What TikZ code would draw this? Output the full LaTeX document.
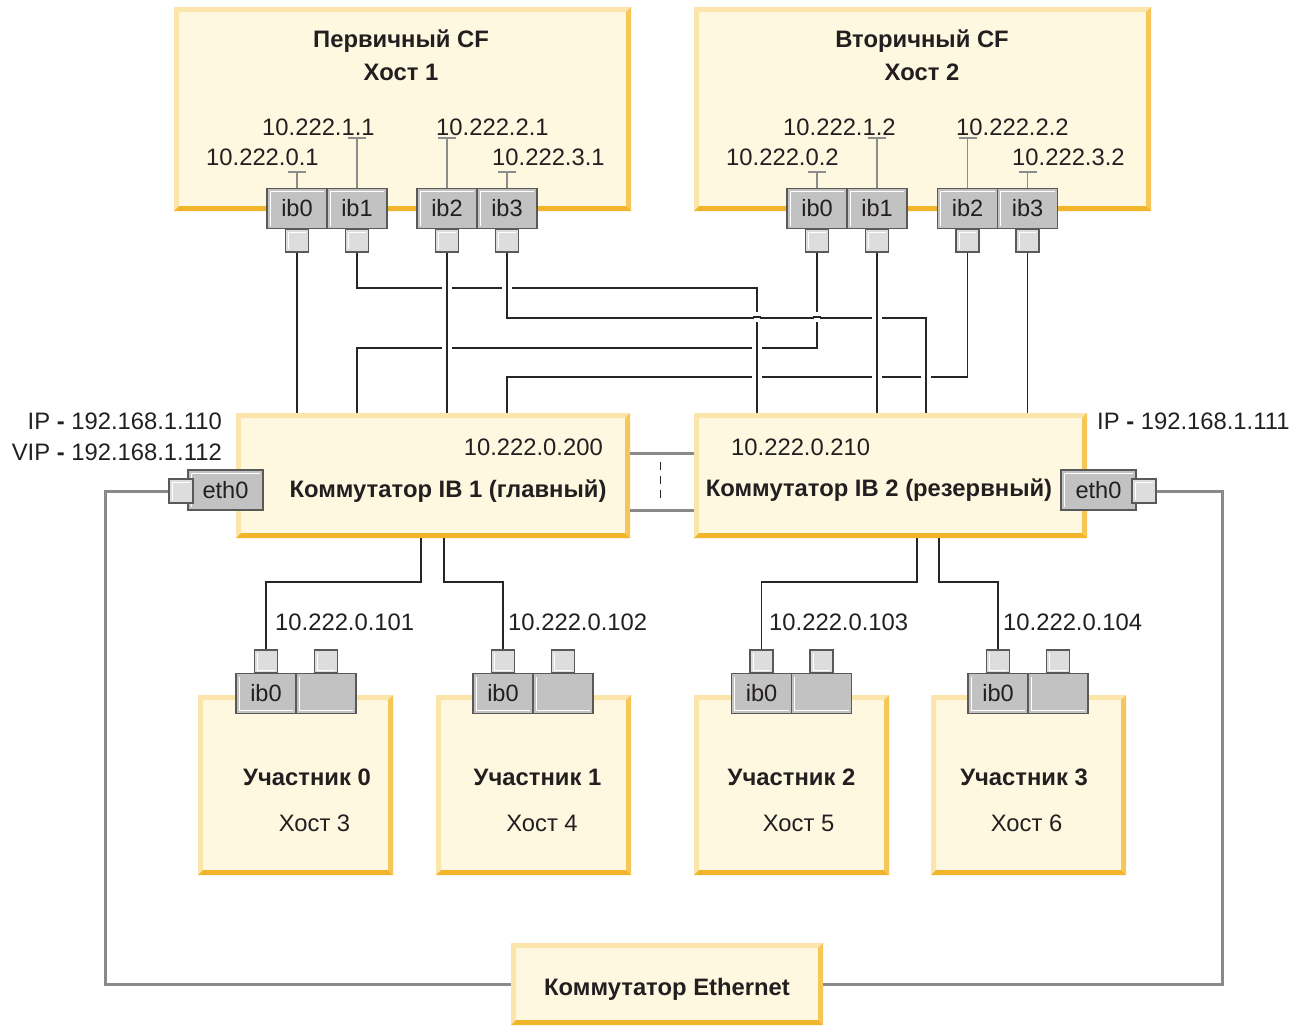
\documentclass[tikz,border=0pt]{standalone}
\usepackage{fontspec}
\setmainfont{Liberation Sans}
\definecolor{boxfill}{HTML}{FFF8E1}
\definecolor{bevlight}{HTML}{FCE5AA}
\definecolor{bevright}{HTML}{F6C656}
\definecolor{bevbottom}{HTML}{F0B52B}
\definecolor{portgray}{HTML}{C2C2C2}
\definecolor{portdark}{HTML}{595959}
\definecolor{sqfill}{HTML}{DDDDDD}
\definecolor{wire}{HTML}{262626}
\definecolor{ethwire}{HTML}{8A8A8A}
\definecolor{stemc}{HTML}{8C8C8C}
\definecolor{ink}{HTML}{231F20}
\tikzset{
 ybox/.style={rectangle, inner sep=0pt, fill=boxfill, path picture={
   \fill[bevlight] (path picture bounding box.north west) -- (path picture bounding box.north east) -- ([xshift=-5pt,yshift=-5pt]path picture bounding box.north east) -- ([xshift=5pt,yshift=-5pt]path picture bounding box.north west) -- cycle;
   \fill[bevlight] (path picture bounding box.north west) -- ([xshift=5pt,yshift=-5pt]path picture bounding box.north west) -- ([xshift=5pt,yshift=5pt]path picture bounding box.south west) -- (path picture bounding box.south west) -- cycle;
   \fill[bevright] (path picture bounding box.north east) -- (path picture bounding box.south east) -- ([xshift=-5pt,yshift=5pt]path picture bounding box.south east) -- ([xshift=-5pt,yshift=-5pt]path picture bounding box.north east) -- cycle;
   \fill[bevbottom] (path picture bounding box.south west) -- (path picture bounding box.south east) -- ([xshift=-5pt,yshift=5pt]path picture bounding box.south east) -- ([xshift=5pt,yshift=5pt]path picture bounding box.south west) -- cycle;
 }},
 hltl/.style={path picture={\draw[white, line width=1pt] ([xshift=3pt,yshift=3pt]path picture bounding box.south west) |- ([xshift=-3pt,yshift=-3pt]path picture bounding box.north east);}},
 hlbl/.style={path picture={\draw[white, line width=1pt] ([xshift=3pt,yshift=-3pt]path picture bounding box.north west) |- ([xshift=-3pt,yshift=3pt]path picture bounding box.south east);}},
 port/.style={rectangle, draw=portdark, line width=1.3pt, fill=portgray, inner sep=0pt,
   minimum width=60, minimum height=40, font=\fontsize{23.6}{27}\selectfont, text=ink},
 sqr/.style={rectangle, draw=portdark, line width=1.3pt, fill=sqfill, inner sep=0pt,
   minimum width=23, minimum height=23},
 txt/.style={inner sep=0pt, font=\fontsize{23.8}{27}\selectfont, text=ink},
 btxt/.style={inner sep=0pt, font=\fontsize{23.8}{27}\selectfont\bfseries, text=ink},
 ib/.style={draw=wire, line width=1.7pt},
 eth/.style={draw=ethwire, line width=3pt},
 stem/.style={draw=stemc, line width=1.5pt},
}
\newcommand\hgapat[2]{\fill[white] (#1-5,#2-3) rectangle (#1+5,#2+3); \draw[ib] (#1,#2-4) -- (#1,#2+4);}
\newcommand\vgapat[2]{\fill[white] (#1-3,#2-5) rectangle (#1+3,#2+5); \draw[ib] (#1-4,#2) -- (#1+4,#2);}
\begin{document}
\begin{tikzpicture}[x=1pt,y=-1pt]
\useasboundingbox[fill=white] (0,0) rectangle (1299,1026);

% ---- boxes
\node[ybox, minimum width=457, minimum height=204] (h1) at (402.5,109) {};
\node[ybox, minimum width=457, minimum height=204] (h2) at (922.5,109) {};
\node[ybox, minimum width=394, minimum height=125] (sw1) at (433,475.5) {};
\node[ybox, minimum width=393, minimum height=125] (sw2) at (890.5,475.5) {};
\node[ybox, minimum width=312, minimum height=82] (esw) at (667,984) {};
\node[ybox, minimum width=195, minimum height=180] (m0) at (295.5,785) {};
\node[ybox, minimum width=195, minimum height=180] (m1) at (533.5,785) {};
\node[ybox, minimum width=195, minimum height=180] (m2) at (791.5,785) {};
\node[ybox, minimum width=195, minimum height=180] (m3) at (1028.5,785) {};

% ---- titles
\node[btxt, anchor=base] (h1t) at (401,47) {Первичный CF};
\node[btxt, anchor=base] (h1h) at (401,80) {Хост 1};
\node[btxt, anchor=base] (h2t) at (922,47) {Вторичный CF};
\node[btxt, anchor=base] (h2h) at (922,80) {Хост 2};
\node[txt, anchor=base east] (sw1ip) at (603,455) {10.222.0.200};
\node[btxt, anchor=base] (sw1t) at (448,497) {Коммутатор IB 1 (главный)};
\node[txt, anchor=base west] (sw2ip) at (731,455) {10.222.0.210};
\node[btxt, anchor=base] (sw2t) at (879,496) {Коммутатор IB 2 (резервный)};
\node[btxt, anchor=base] (eswt) at (667,995) {Коммутатор Ethernet};
\node[btxt, anchor=base] (m0t) at (307,785) {Участник 0};
\node[txt, anchor=base] (m0h) at (314.5,831) {Хост 3};
\node[btxt, anchor=base] (m1t) at (537.5,785) {Участник 1};
\node[txt, anchor=base] (m1h) at (542,831) {Хост 4};
\node[btxt, anchor=base] (m2t) at (791.5,785) {Участник 2};
\node[txt, anchor=base] (m2h) at (798.5,831) {Хост 5};
\node[btxt, anchor=base] (m3t) at (1024,785) {Участник 3};
\node[txt, anchor=base] (m3h) at (1026.5,831) {Хост 6};

% ---- IP labels
\node[txt, anchor=base east] (ip1) at (222,429) {IP \textbf{-} 192.168.1.110};
\node[txt, anchor=base east] (vip1) at (222,460) {VIP \textbf{-} 192.168.1.112};
\node[txt, anchor=base west] (ip2) at (1097,429) {IP \textbf{-} 192.168.1.111};

% ---- CF ports
\foreach \n/\x/\l in {0/297/ib0,1/357/ib1,2/447/ib2,3/507/ib3}{
  \node[port, hltl] (h1i\n) at (\x,208.5) {\l};
  \node[sqr, hltl] (h1s\n) at (\x,240.5) {};
}
\foreach \n/\x/\l in {0/817/ib0,1/877/ib1,2/967.5/ib2,3/1027.5/ib3}{
  \node[port, hltl] (h2i\n) at (\x,208.5) {\l};
  \node[sqr, hltl] (h2s\n) at (\x,240.5) {};
}
% stems
\foreach \h in {h1,h2}{
  \draw[stem] (\h i0.north) -- ++(0,-16) ++(-9,0) -- ++(18,0);
  \draw[stem] (\h i1.north) -- ++(0,-50) ++(-9,0) -- ++(18,0);
  \draw[stem] (\h i2.north) -- ++(0,-50) ++(-9,0) -- ++(18,0);
  \draw[stem] (\h i3.north) -- ++(0,-16) ++(-9,0) -- ++(18,0);
}
\node[txt, anchor=base west] (a10) at (206,165) {10.222.0.1};
\node[txt, anchor=base west] (a11) at (262,135) {10.222.1.1};
\node[txt, anchor=base west] (a12) at (436,135) {10.222.2.1};
\node[txt, anchor=base west] (a13) at (492,165) {10.222.3.1};
\node[txt, anchor=base west] (a20) at (726,165) {10.222.0.2};
\node[txt, anchor=base west] (a21) at (783,135) {10.222.1.2};
\node[txt, anchor=base west] (a22) at (956,135) {10.222.2.2};
\node[txt, anchor=base west] (a23) at (1012,165) {10.222.3.2};

% ---- member ports
\foreach \m/\x in {0/266,1/503,2/761.5,3/998}{
  \node[port, hlbl] (m\m i0) at (\x,693.5) {ib0};
  \node[port, hlbl] (m\m i1) at (\x+60,693.5) {};
  \node[sqr, hlbl] (m\m s0) at (\x,661.5) {};
  \node[sqr, hlbl] (m\m s1) at (\x+60,661.5) {};
}
\node[txt, anchor=base west] (b0) at (275,630) {10.222.0.101};
\node[txt, anchor=base west] (b1) at (508,630) {10.222.0.102};
\node[txt, anchor=base west] (b2) at (769,630) {10.222.0.103};
\node[txt, anchor=base west] (b3) at (1003,630) {10.222.0.104};

% ---- eth ports
\node[port, hltl, minimum width=75] (e1) at (225.5,490) {eth0};
\node[sqr, hltl, minimum width=24, minimum height=24] (e1s) at (181,491) {};
\node[port, hltl, minimum width=75] (e2) at (1098.5,490) {eth0};
\node[sqr, hltl, minimum width=24, minimum height=24] (e2s) at (1144,491) {};

% ---- attach coordinates on switches
\path (sw2.north west) ++(63,0) coordinate (s2a) ++(169,0) coordinate (s2c);
\path (sw1.south west) ++(185.5,0) coordinate (d1a) ++(23,0) coordinate (d1b);
\path (sw2.south west) ++(223,0) coordinate (d2a) ++(22,0) coordinate (d2b);

% ---- IB wires
\draw[ib] (h1s0.south) -- (h1s0.south |- sw1.north);
\draw[ib] (h1s1.south) -- ++(0,35) -| (s2a);
\draw[ib] (h1s2.south) -- (h1s2.south |- sw1.north);
\draw[ib] (h1s3.south) -- ++(0,65) -| (s2c);
\draw[ib] (h2s0.south) -- ++(0,95) -| (h1s1.south |- sw1.north);
\draw[ib] (h2s1.south) -- (h2s1.south |- sw2.north);
\draw[ib] (h2s2.south) -- ++(0,124) -| (h1s3.south |- sw1.north);
\draw[ib] (h2s3.south) -- (h2s3.south |- sw2.north);
% crossings
\hgapat{447}{287}
\hgapat{507}{287}
\vgapat{757}{317}
\vgapat{817}{317}
\hgapat{877}{317}
\hgapat{447}{347}
\hgapat{757}{347}
\hgapat{757}{376}
\hgapat{877}{376}
\hgapat{926}{376}

% member wires
\draw[ib] (d1a) -- ++(0,44) -| (m0s0.north);
\draw[ib] (d1b) -- ++(0,44) -| (m1s0.north);
\draw[ib] (d2a) -- ++(0,44) -| (m2s0.north);
\draw[ib] (d2b) -- ++(0,44) -| (m3s0.north);

% ---- switch interconnect
\draw[eth] ([yshift=-41pt]sw1.north east) -- ([yshift=-41pt]sw2.north west);
\draw[eth] ([yshift=28pt]sw1.south east) -- ([yshift=28pt]sw2.south west);
\draw[draw=wire, line width=1.2pt, dash pattern=on 8pt off 6pt] ([xshift=30pt,yshift=-49pt]sw1.north east) -- ([xshift=30pt,yshift=35pt]sw1.south east);

% ---- ethernet
\draw[eth] (e1s.west) -- ++(-63,0) |- (esw.west);
\draw[eth] (e2s.east) -- ++(66,0) |- (esw.east);
\end{tikzpicture}
\end{document}
